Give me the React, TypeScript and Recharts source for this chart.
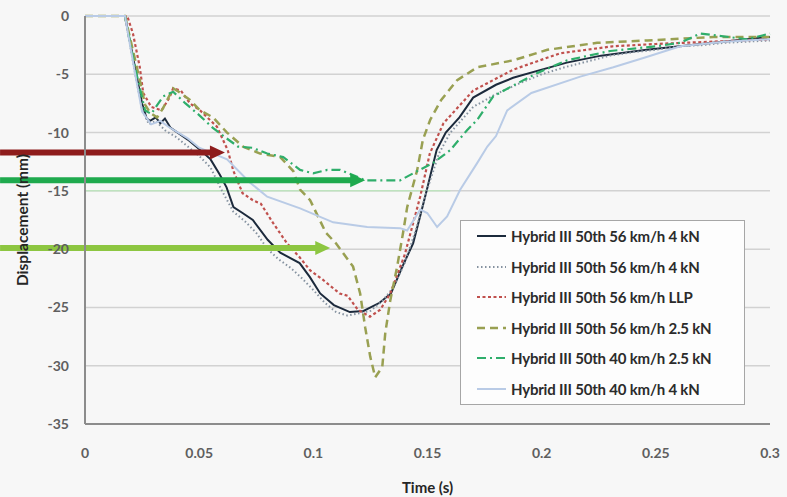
import { LineChart, Line, XAxis, YAxis, CartesianGrid, ReferenceLine } from 'recharts';

// axis ticks
const xTicks = [0, 0.05, 0.1, 0.15, 0.2, 0.25, 0.3];
const xTickLabels = ['0', '0.05', '0.1', '0.15', '0.2', '0.25', '0.3'];
const yTicks = [0, -5, -10, -15, -20, -25, -30, -35];

const seriesNames = [
  'Hybrid III 50th 56 km/h 4 kN',
  'Hybrid III 50th 56 km/h 4 kN',
  'Hybrid III 50th 56 km/h LLP',
  'Hybrid III 50th 56 km/h 2.5 kN',
  'Hybrid III 50th 40 km/h 2.5 kN',
  'Hybrid III 50th 40 km/h 4 kN',
];

// 56 km/h 4 kN (solid)
const s56a4Time = [0, 0.0175, 0.022, 0.025, 0.027, 0.0285, 0.031, 0.033, 0.035, 0.0375, 0.045, 0.0505, 0.055, 0.059, 0.062, 0.065, 0.069, 0.0735, 0.08, 0.0855, 0.094, 0.0985, 0.103, 0.109, 0.116, 0.122, 0.129, 0.134, 0.139, 0.1437, 0.147, 0.15, 0.154, 0.158, 0.164, 0.17, 0.18, 0.1875, 0.2, 0.211, 0.226, 0.246, 0.275, 0.3];
const s56a4Disp = [0, 0, -4.5, -7.5, -8.8, -9.0, -8.7, -9.2, -8.8, -9.6, -10.6, -11.5, -12.3, -13.6, -14.7, -16.4, -16.9, -17.5, -19.2, -20.3, -21.2, -22.4, -23.8, -24.8, -25.4, -25.3, -24.6, -23.8, -21.5, -19.5, -17.0, -14.7, -11.5, -10.0, -8.7, -7.0, -5.9, -5.3, -4.6, -4.0, -3.4, -2.9, -2.3, -1.8];

// 56 km/h 4 kN (dotted)
const s56b4Time = [0, 0.0175, 0.022, 0.025, 0.028, 0.031, 0.035, 0.04, 0.045, 0.05, 0.055, 0.06, 0.065, 0.07, 0.075, 0.08, 0.085, 0.09, 0.095, 0.1, 0.105, 0.11, 0.115, 0.12, 0.125, 0.13, 0.135, 0.14, 0.145, 0.15, 0.155, 0.16, 0.165, 0.17, 0.18, 0.19, 0.2, 0.21, 0.22, 0.23, 0.24, 0.25, 0.26, 0.27, 0.28, 0.29, 0.3];
const s56b4Disp = [0, 0, -5.0, -8.0, -9.3, -9.0, -9.8, -10.4, -11.2, -12.0, -13.0, -15.0, -16.8, -17.6, -18.6, -20.0, -20.9, -21.6, -22.5, -23.5, -24.6, -25.4, -25.7, -25.5, -25.3, -24.5, -23.3, -21.2, -18.3, -14.8, -11.8, -10.0, -8.9, -7.8, -6.7, -5.8, -5.0, -4.4, -3.9, -3.4, -3.1, -2.9, -2.6, -2.5, -2.3, -2.2, -2.1];

// 56 km/h LLP
const s56llpTime = [0, 0.0185, 0.021, 0.024, 0.0255, 0.029, 0.0335, 0.037, 0.0386, 0.042, 0.046, 0.0504, 0.0578, 0.0625, 0.065, 0.069, 0.0735, 0.077, 0.0825, 0.0885, 0.094, 0.0985, 0.104, 0.1115, 0.115, 0.1195, 0.1248, 0.1293, 0.1337, 0.14, 0.1468, 0.151, 0.157, 0.17, 0.1876, 0.208, 0.231, 0.25, 0.275, 0.3];
const s56llpDisp = [0, 0, -1.5, -4.4, -6.6, -7.8, -8.1, -7.0, -6.2, -6.4, -7.5, -8.1, -9.5, -11.5, -13.3, -15.2, -15.8, -16.1, -17.8, -19.5, -20.7, -21.8, -22.6, -23.8, -24.0, -25.2, -25.8, -25.2, -23.8, -20.5, -15.5, -11.8, -9.2, -6.4, -4.6, -3.2, -2.6, -2.4, -2.2, -2.0];

// 56 km/h 2.5 kN
const s56k25Time = [0, 0.0175, 0.024, 0.0263, 0.0285, 0.0316, 0.0342, 0.0386, 0.041, 0.046, 0.0504, 0.0561, 0.0622, 0.0692, 0.0767, 0.0855, 0.0912, 0.0942, 0.0986, 0.1055, 0.1099, 0.1174, 0.1205, 0.1227, 0.1249, 0.1271, 0.1302, 0.1315, 0.1337, 0.1367, 0.1393, 0.1411, 0.1455, 0.148, 0.1512, 0.156, 0.163, 0.1718, 0.1876, 0.2025, 0.2243, 0.2463, 0.2752, 0.3];
const s56k25Disp = [0, 0, -5.5, -7.6, -8.3, -8.7, -7.9, -6.2, -6.5, -7.2, -8.1, -8.7, -10.0, -11.2, -11.8, -12.1, -13.3, -14.9, -15.8, -18.6, -19.5, -21.5, -23.8, -26.7, -29.2, -31.0, -30.1, -27.2, -24.4, -21.5, -18.6, -16.4, -13.2, -10.6, -8.9, -7.2, -5.5, -4.4, -3.8, -2.9, -2.3, -2.1, -1.8, -1.8];

// 40 km/h 2.5 kN
const s40k25Time = [0, 0.0175, 0.022, 0.025, 0.0263, 0.029, 0.0342, 0.0386, 0.044, 0.05, 0.056, 0.0613, 0.067, 0.0732, 0.0798, 0.0868, 0.0942, 0.0999, 0.1061, 0.1117, 0.1192, 0.1227, 0.1293, 0.138, 0.1437, 0.1525, 0.16, 0.1673, 0.1718, 0.1788, 0.1862, 0.198, 0.2112, 0.23, 0.25, 0.2607, 0.2695, 0.29, 0.3];
const s40k25Disp = [0, 0, -4.5, -7.0, -8.1, -8.4, -6.9, -6.5, -7.5, -8.5, -9.6, -10.4, -11.2, -11.3, -11.8, -12.1, -13.2, -13.5, -13.2, -13.2, -13.8, -14.1, -14.1, -14.1, -13.5, -12.6, -11.5, -9.8, -8.9, -6.9, -6.1, -4.9, -3.8, -3.0, -2.6, -2.3, -1.5, -2.0, -1.5];

// 40 km/h 4 kN
const s40k4Time = [0, 0.0175, 0.022, 0.025, 0.029, 0.033, 0.0365, 0.045, 0.05, 0.0622, 0.0723, 0.0767, 0.0798, 0.0942, 0.1087, 0.1236, 0.138, 0.1411, 0.1468, 0.1499, 0.1542, 0.1586, 0.1643, 0.1718, 0.1762, 0.18, 0.1849, 0.1955, 0.2169, 0.2314, 0.2463, 0.2607, 0.28, 0.3];
const s40k4Disp = [0, 0, -5.0, -8.2, -9.3, -9.0, -9.5, -10.5, -11.3, -12.3, -14.3, -15.0, -15.5, -16.5, -17.7, -18.1, -18.2, -18.4, -16.6, -16.9, -18.1, -17.2, -14.9, -12.6, -11.2, -10.3, -8.1, -6.6, -5.2, -4.4, -3.5, -2.6, -2.2, -2.0];

// arrows drawn over the chart
const arrowLevels = [-11.7, -14.1, -19.9];
const arrowTips = [0.0613, 0.1227, 0.1074];
const arrowStart = -0.0372;
const arrowColors = ['#8e1c1c', '#1faa4e', '#8dc641'];

const seriesTimes = [s56a4Time, s56b4Time, s56llpTime, s56k25Time, s40k25Time, s40k4Time];
const seriesDisps = [s56a4Disp, s56b4Disp, s56llpDisp, s56k25Disp, s40k25Disp, s40k4Disp];

const lineStyles = [
  { stroke: '#1c2a3c', dash: undefined, width: 2 },
  { stroke: '#8592a0', dash: '1.5 2.5', width: 2 },
  { stroke: '#c0504d', dash: '3 2.5', width: 2.2 },
  { stroke: '#99a052', dash: '8 5', width: 2.5 },
  { stroke: '#2fae6b', dash: '9 4 2 4', width: 2.2 },
  { stroke: '#b9cbe6', dash: undefined, width: 2 },
];

const series = seriesTimes.map((times, i) =>
  times.map((t, j) => ({ t, v: seriesDisps[i][j] }))
);

const font = 'Lato, "Open Sans", sans-serif';

const Arrow = (props: any) => {
  const { x1, y1, x2, color } = props;
  const head = 15;
  return (
    <g>
      <line x1={x1} y1={y1} x2={x2 - head + 1} y2={y1} stroke={color} strokeWidth={6} />
      <polygon points={`${x2},${y1} ${x2 - head},${y1 - 7} ${x2 - head},${y1 + 7}`} fill={color} />
    </g>
  );
};

const LegendBox = () => (
  <div
    style={{
      position: 'absolute',
      left: 460,
      top: 220,
      width: 285,
      height: 185,
      boxSizing: 'border-box',
      background: '#fdfdfd',
      border: '1px solid #a6a6a6',
      fontFamily: font,
      fontSize: 15,
      fontWeight: 700,
      color: '#2b2b2b',
    }}
  >
    {seriesNames.map((name, i) => (
      <div key={i} style={{ height: 30.5, display: 'flex', alignItems: 'center' }}>
        <svg width={50} height={10} style={{ flexShrink: 0 }}>
          <line
            x1={16}
            y1={5}
            x2={45}
            y2={5}
            stroke={lineStyles[i].stroke}
            strokeWidth={lineStyles[i].width}
            strokeDasharray={lineStyles[i].dash}
          />
        </svg>
        <span style={{ whiteSpace: 'nowrap', letterSpacing: -0.2 }}>{name}</span>
      </div>
    ))}
  </div>
);

export default function App() {
  return (
    <div style={{ position: 'absolute', left: 0, top: 0, width: 787, height: 497, background: '#f7f7f7' }}>
      <LineChart width={787} height={497} margin={{ top: 16, right: 17, bottom: 0, left: 0 }}>
        <CartesianGrid vertical={false} stroke="#d2d2d2" strokeWidth={1.5} />
        <XAxis
          type="number"
          dataKey="t"
          domain={[0, 0.3]}
          ticks={xTicks}
          tickFormatter={(v: number) => xTickLabels[xTicks.indexOf(v)] ?? String(v)}
          height={73}
          tickSize={0}
          tickMargin={24}
          stroke="#8c8c8c"
          strokeWidth={2}
          tick={{ fill: '#5f5f5f', fontSize: 14, fontFamily: font, fontWeight: 700 }}
          allowDuplicatedCategory={false}
          label={{ value: 'Time (s)', position: 'insideBottom', offset: 4, fill: '#262626', fontSize: 15, fontFamily: font, fontWeight: 700 }}
        />
        <YAxis
          type="number"
          domain={[-35, 0]}
          ticks={yTicks}
          width={85}
          tickSize={0}
          tickMargin={16}
          stroke="#8c8c8c"
          strokeWidth={2}
          tick={{ fill: '#5f5f5f', fontSize: 14, fontFamily: font, fontWeight: 700 }}
          label={{ value: 'Displacement (mm)', angle: -90, position: 'insideLeft', offset: 22, fill: '#262626', fontSize: 15.5, fontFamily: font, fontWeight: 700, style: { textAnchor: 'middle' } }}
        />
        <ReferenceLine
          segment={[{ x: 0, y: -15 }, { x: 0.16, y: -15 }]}
          stroke="#bfe3bf"
          strokeWidth={1.5}
        />
        {series.map((data, i) => (
          <Line
            key={i}
            data={data}
            dataKey="v"
            name={seriesNames[i]}
            type="linear"
            stroke={lineStyles[i].stroke}
            strokeWidth={lineStyles[i].width}
            strokeDasharray={lineStyles[i].dash}
            dot={false}
            activeDot={false}
            isAnimationActive={false}
          />
        ))}
        {arrowLevels.map((y, i) => (
          <ReferenceLine
            key={'a' + i}
            segment={[{ x: arrowStart, y }, { x: arrowTips[i], y }]}
            ifOverflow="visible"
            shape={(p: any) => <Arrow {...p} color={arrowColors[i]} />}
          />
        ))}
      </LineChart>
      <LegendBox />
    </div>
  );
}
